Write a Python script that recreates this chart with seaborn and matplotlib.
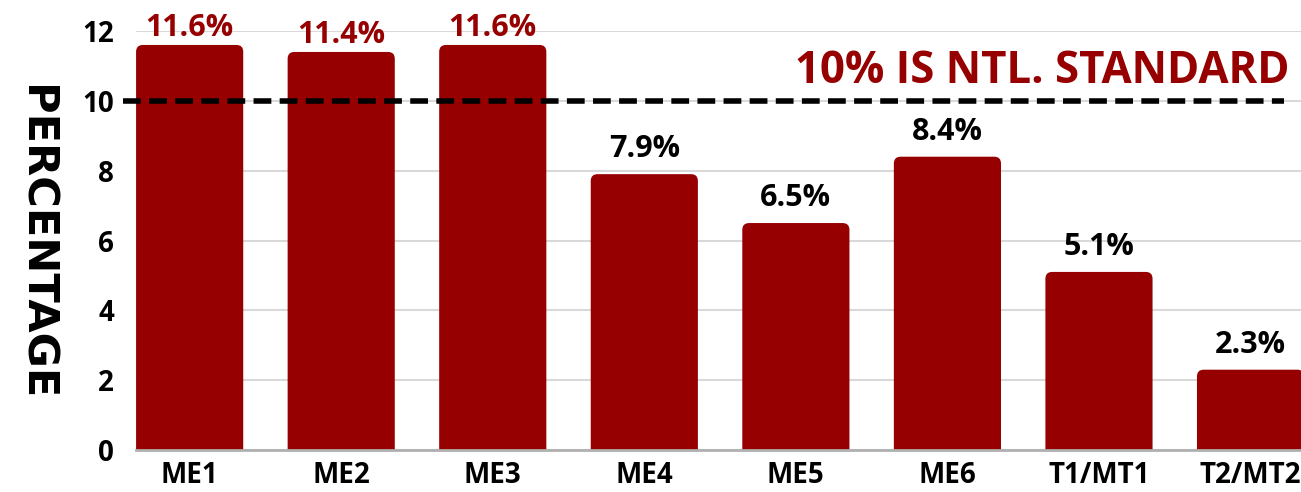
import matplotlib
matplotlib.use("Agg")
import matplotlib.pyplot as plt
import numpy as np
import seaborn as sns
from matplotlib.patches import FancyBboxPatch

groups = ["ME1", "ME2", "ME3", "ME4", "ME5", "ME6", "T1/MT1", "T2/MT2"]
percentages = [11.6, 11.4, 11.6, 7.9, 6.5, 8.4, 5.1, 2.3]
standard = 10
standard_label = "10% IS NTL. STANDARD"
y_ticks = [0, 2, 4, 6, 8, 10, 12]

bar_color = "#970000"

sns.set_style("white")
plt.rcParams["font.family"] = ["Open Sans", "DejaVu Sans"]

fig = plt.figure(figsize=(13.01, 4.92), dpi=100)
ax = fig.add_axes([136 / 1301, 1 - 450 / 492, 1 - 136 / 1301, (450 - 31) / 492])

sns.barplot(x=groups, y=percentages, color=bar_color, width=0.707, ax=ax, zorder=2)

# swap plain bars for ones with rounded top corners
for p in list(ax.patches):
    x, w, h = p.get_x(), p.get_width(), p.get_height()
    p.remove()
    rb = FancyBboxPatch((x, -1), w, h + 1,
                        boxstyle="round,pad=0,rounding_size=0.045",
                        mutation_aspect=4.3, facecolor=bar_color,
                        edgecolor="none", zorder=2)
    ax.add_patch(rb)

for i, v in enumerate(percentages):
    above = v > standard
    ax.annotate(f"{v}%", (i, v), xytext=(0, 2 if above else 10),
                textcoords="offset pixels",
                ha="center", va="bottom", fontsize=22, fontweight="bold",
                color=bar_color if above else "black", clip_on=False, zorder=4)

ax.hlines(standard, -0.44, 7.22, colors="black", linestyles=(0, (3.2, 1.5)),
          linewidth=4, clip_on=False, zorder=3)
ax.text(0.99, 10.52, standard_label, transform=ax.get_yaxis_transform(),
        ha="right", va="baseline", fontsize=31.5, fontweight="bold", color=bar_color)

ax.set_xlim(-0.354, 7.333)
ax.set_ylim(0, 12)
ax.set_yticks(y_ticks)
ax.yaxis.grid(True, color="#d9d9d9", linewidth=1.5, zorder=0)
ax.set_axisbelow(True)
for s in ["top", "right", "left"]:
    ax.spines[s].set_visible(False)
ax.spines["bottom"].set_color("#b0b0b0")
ax.spines["bottom"].set_linewidth(2)
ax.tick_params(axis="both", length=0, labelsize=20, labelcolor="black")
ax.tick_params(axis="y", pad=16)
ax.tick_params(axis="x", pad=8)
for t in ax.get_xticklabels() + ax.get_yticklabels():
    t.set_fontweight("bold")

ax.set_xlabel("")
ax.set_ylabel("")
fig.text(35 / 1301, 1 - 243 / 492, "PERCENTAGE", rotation=270, ha="center", va="center",
         fontsize=31, fontweight="bold", family="DejaVu Sans", color="black")

fig.savefig("out.png", dpi=100)
